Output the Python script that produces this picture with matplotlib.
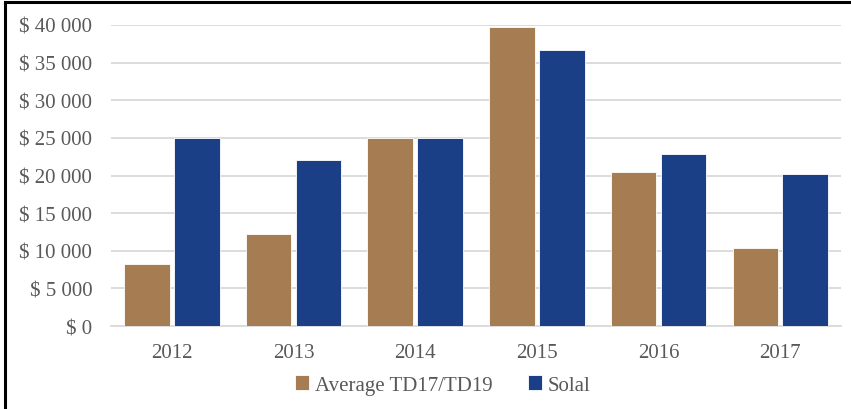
import matplotlib.pyplot as plt
import numpy as np
from matplotlib.lines import Line2D
from matplotlib.ticker import FuncFormatter

years = ["2012", "2013", "2014", "2015", "2016", "2017"]
average_td = [8300, 12200, 25000, 39700, 20450, 10330]
solal = [25050, 22030, 25000, 36700, 22830, 20250]

plt.rcParams['font.family'] = ['Liberation Serif', 'DejaVu Serif']

fig = plt.figure(figsize=(8.51, 4.10), dpi=100)
ax = fig.add_axes([0.1304, 0.2024, 0.8579, 0.7342])

x = np.arange(len(years))
w = 0.374
off = 0.205
ax.bar(x - off, average_td, w, color="#A67C52", edgecolor="white", linewidth=0.6,
       label="Average TD17/TD19", zorder=3)
ax.bar(x + off, solal, w, color="#1A3F87", edgecolor="white", linewidth=0.6,
       label="Solal", zorder=3)

ax.set_xlim(-0.5, len(years) - 0.5)
ax.set_ylim(0, 40000)
ax.set_yticks(range(0, 40001, 5000))
ax.yaxis.set_major_formatter(FuncFormatter(lambda v, p: "$ " + f"{int(v):,}".replace(",", " ")))
ax.set_xticks(x)
ax.set_xticklabels(years)

ax.grid(axis="y", color="#D9D9D9", linewidth=1.3, zorder=0)
for s in ["top", "right", "left"]:
    ax.spines[s].set_visible(False)
ax.spines["bottom"].set_color("#D9D9D9")
ax.spines["bottom"].set_linewidth(1.3)
ax.tick_params(length=0, labelsize=15, colors="#595959")
ax.tick_params(axis="x", pad=12.5)
ax.tick_params(axis="y", pad=13.5)

fig.legend(loc="center", bbox_to_anchor=(0.52, 0.059), ncol=2, frameon=False,
           fontsize=15, labelcolor="#595959", handlelength=0.7, handleheight=0.7,
           handletextpad=0.25, columnspacing=1.7)

# outer frame (only top and left edges show)
fig.add_artist(Line2D([0.006, 1.0], [0.9915, 0.9915], color="black", linewidth=2.2,
                      transform=fig.transFigure))
fig.add_artist(Line2D([0.006, 0.006], [0.0, 0.9915], color="black", linewidth=2.2,
                      transform=fig.transFigure))

fig.savefig("out.png", dpi=100)
